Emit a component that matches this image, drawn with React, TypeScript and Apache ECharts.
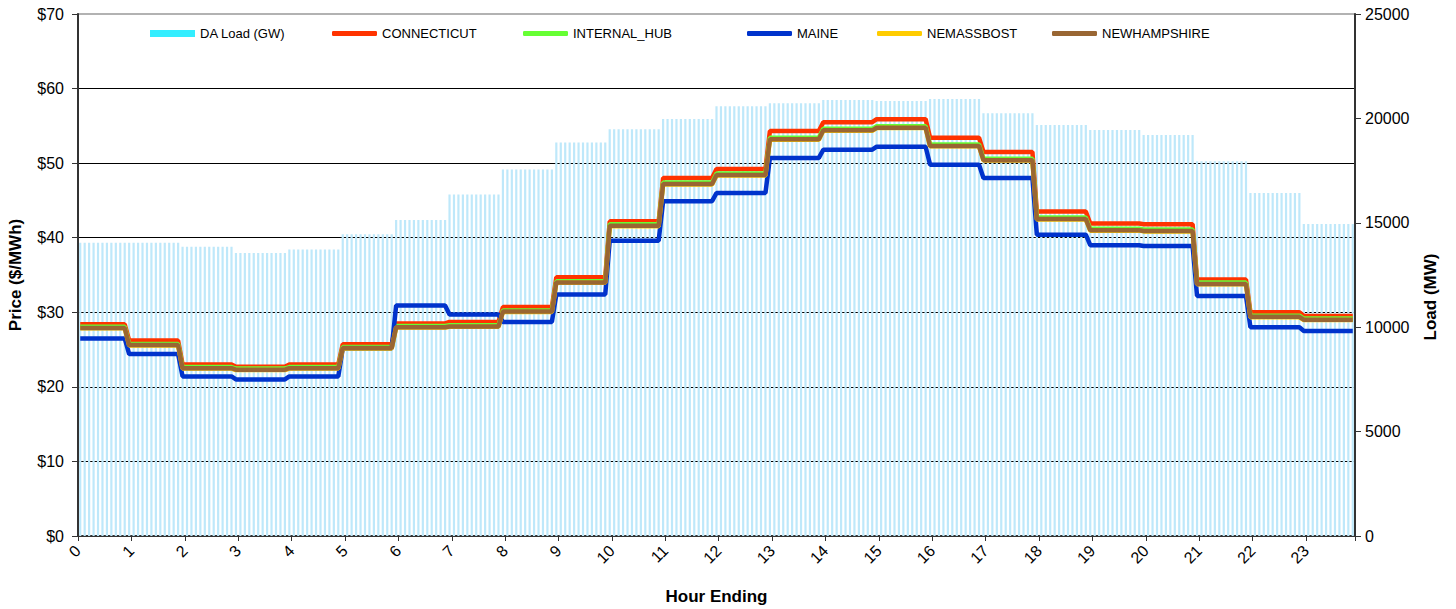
import React, { useEffect, useRef } from "react";
import * as echarts from "echarts";

// Tick labels for the hour axis
const hourTicks = ["0","1","2","3","4","5","6","7","8","9","10","11","12","13","14","15","16","17","18","19","20","21","22","23"];

// Hourly values (each hour is shown as 5-minute intervals)
const loadMW = [14050, 14050, 13850, 13550, 13720, 14450, 15130, 16350, 17550, 18850, 19480, 19970, 20580, 20720, 20880, 20830, 20930, 20250, 19680, 19450, 19200, 17950, 16430, 14940];
const connecticut = [28.4, 26.2, 23.0, 22.7, 23.0, 25.7, 28.5, 28.7, 30.7, 34.7, 42.2, 48.0, 49.2, 54.3, 55.5, 55.9, 53.4, 51.5, 43.5, 41.9, 41.8, 34.4, 30.0, 29.5];
const internalHub = [28.05, 25.75, 22.65, 22.45, 22.65, 25.35, 28.15, 28.25, 30.25, 34.15, 41.8, 47.4, 48.6, 53.4, 54.6, 54.95, 52.5, 50.6, 42.7, 41.2, 41.1, 34.0, 29.55, 29.15];
const maine = [26.5, 24.4, 21.4, 21.0, 21.4, 25.15, 30.9, 29.7, 28.7, 32.4, 39.6, 44.9, 46.0, 50.7, 51.8, 52.2, 49.8, 48.0, 40.4, 39.0, 38.9, 32.2, 28.0, 27.5];
const neMassBost = [27.85, 25.55, 22.45, 22.25, 22.45, 25.15, 27.95, 28.05, 30.05, 33.95, 41.55, 47.15, 48.35, 53.15, 54.35, 54.7, 52.25, 50.35, 42.45, 40.95, 40.85, 33.75, 29.35, 28.95];
const newHampshire = [27.9, 25.6, 22.5, 22.3, 22.5, 25.2, 28.0, 28.1, 30.1, 34.0, 41.6, 47.2, 48.4, 53.2, 54.4, 54.75, 52.3, 50.4, 42.5, 41.0, 40.9, 33.8, 29.4, 29.0];

const N_INTERVALS = 287;
const hourOf = (j: number) => Math.min(23, Math.floor((j + 1) / 12));
const expand = (arr: number[]) =>
  Array.from({ length: N_INTERVALS }, (_, j) => [(j + 0.5) / 12, arr[hourOf(j)]]);

const FONT = "Liberation Sans";

const lineSeries = (name: string, data: number[], color: string) => ({
  name,
  type: "line",
  yAxisIndex: 0,
  data: expand(data),
  showSymbol: false,
  symbol: "none",
  lineStyle: { color, width: 4.5 },
  itemStyle: { color },
  z: 3,
});

const legendItem = (name: string, left: number, icon: string, h: number, color?: string) => ({
  data: [color ? { name, icon, itemStyle: { color } } : { name, icon }],
  left,
  top: 27,
  itemWidth: 45,
  itemHeight: h,
  padding: 0,
  textStyle: { fontSize: 13, color: "#000", fontFamily: FONT },
});

export default function App() {
  const ref = useRef<HTMLDivElement>(null);
  useEffect(() => {
    const chart = echarts.init(ref.current!, null, { renderer: "svg" });
    chart.setOption({
      animation: false,
      backgroundColor: "#fff",
      textStyle: { fontFamily: FONT },
      grid: {
        left: 78, right: 101, top: 14, bottom: 73,
        containLabel: false, outerBoundsMode: "none",
        show: true, borderColor: "#999", borderWidth: 1.5,
      },
      legend: [
        legendItem("DA Load (GW)", 150, "rect", 7, "#33EEFF"),
        legendItem("CONNECTICUT", 332, "roundRect", 5),
        legendItem("INTERNAL_HUB", 523, "roundRect", 5),
        legendItem("MAINE", 747, "roundRect", 5),
        legendItem("NEMASSBOST", 877, "roundRect", 5),
        legendItem("NEWHAMPSHIRE", 1052, "roundRect", 5),
      ],
      xAxis: {
        type: "value",
        min: 0,
        max: N_INTERVALS / 12,
        interval: 1,
        name: "Hour Ending",
        nameLocation: "middle",
        nameGap: 52,
        nameTextStyle: { fontSize: 17, fontWeight: "bold", color: "#000", fontFamily: FONT },
        axisLine: { show: true, onZero: false, lineStyle: { color: "#333", width: 2 } },
        axisTick: { show: true, length: 5, lineStyle: { color: "#333" } },
        splitLine: { show: false },
        axisLabel: {
          rotate: 45,
          fontSize: 16,
          color: "#000",
          fontFamily: FONT,
          margin: 12,
          formatter: (v: number) => (Number.isInteger(v) && v < hourTicks.length ? hourTicks[v] : ""),
        },
      },
      yAxis: [
        {
          type: "value",
          min: 0,
          max: 70,
          interval: 10,
          position: "left",
          name: "Price ($/MWh)",
          nameLocation: "middle",
          nameGap: 54,
          nameTextStyle: { fontSize: 17, fontWeight: "bold", color: "#000", fontFamily: FONT },
          axisLine: { show: true, lineStyle: { color: "#333", width: 2 } },
          axisTick: { show: true, length: 6, lineStyle: { color: "#333" } },
          axisLabel: { formatter: "${value}", fontSize: 16, color: "#000", fontFamily: FONT, margin: 14 },
          splitLine: { show: true, showMinLine: false, showMaxLine: false, lineStyle: { color: "#000", width: 1 } },
        },
        {
          type: "value",
          min: 0,
          max: 25000,
          interval: 5000,
          position: "right",
          name: "Load (MW)",
          nameLocation: "middle",
          nameGap: 67,
          nameTextStyle: { fontSize: 17, fontWeight: "bold", color: "#000", fontFamily: FONT, padding: [0, 0, 0, -44] },
          axisLine: { show: true, lineStyle: { color: "#333", width: 2 } },
          axisTick: { show: true, length: 6, lineStyle: { color: "#333" } },
          axisLabel: { fontSize: 16, color: "#000", fontFamily: FONT, margin: 10, formatter: (v: number) => String(v) },
          splitLine: { show: false },
        },
      ],
      series: [
        {
          name: "DA Load (GW)",
          type: "bar",
          yAxisIndex: 1,
          data: expand(loadMW),
          barWidth: 2.2,
          itemStyle: { color: "#BEE8FA" },
          z: 1,
        },
        lineSeries("CONNECTICUT", connecticut, "#FF3300"),
        lineSeries("INTERNAL_HUB", internalHub, "#66FF33"),
        lineSeries("MAINE", maine, "#0033CC"),
        lineSeries("NEMASSBOST", neMassBost, "#FFCC00"),
        lineSeries("NEWHAMPSHIRE", newHampshire, "#996633"),
      ],
    });
    return () => chart.dispose();
  }, []);
  return <div ref={ref} style={{ position: "absolute", left: 0, top: 0, width: 1456, height: 609 }} />;
}
